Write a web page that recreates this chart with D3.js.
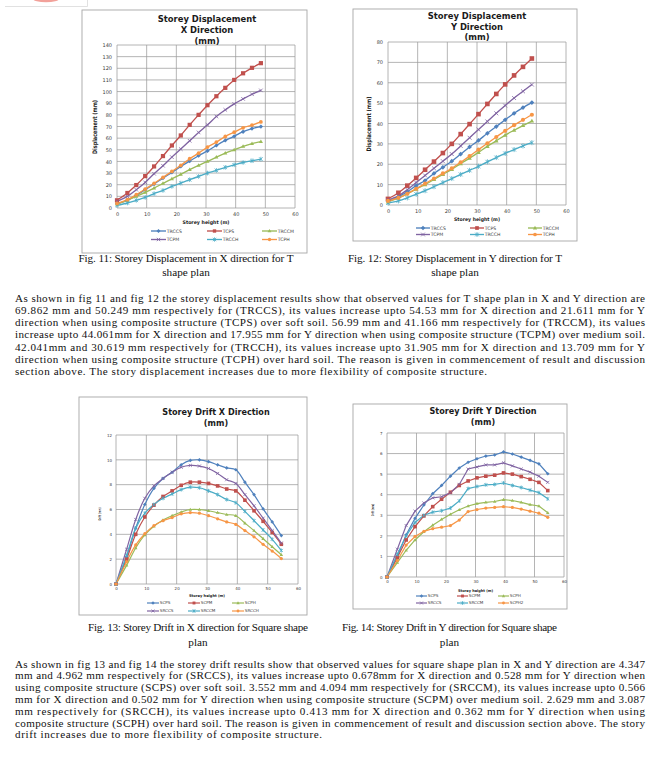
<!DOCTYPE html>
<html><head><meta charset="utf-8">
<script src="https://cdn.jsdelivr.net/npm/d3@7"></script>
<style>html,body{margin:0;padding:0;background:#fff;} svg{display:block;}</style>
</head><body>
<svg id="page" width="660" height="780"></svg>
<script>
// ---------- DATA ----------
const dispHeights = [0,3.5,6.5,9.5,12.5,15.5,18.5,21.5,24.5,27.5,30.5,33.5,36.5,39.5,42.5,45.5,48.5];
const driftHeights = [0,3.5,6.5,9.5,12.5,15.5,18.5,21.5,24.5,27.5,30.5,33.5,36.5,39.5,42.5,45.5,48.5,51.5,54.5];

// Fig 11 : storey displacement X (mm)
const dispX_TRCCS = [3.7,6.6,10.9,15.7,20.6,25.7,30.6,35.7,40.3,44.9,49.0,53.7,58.0,61.6,65.5,68.2,69.9];
const dispX_TCPS  = [6.6,12.9,19.7,27.4,35.7,44.6,53.7,62.3,71.4,80.0,88.3,96.0,103.2,110.0,115.7,120.4,124.4];
const dispX_TRCCM = [3.4,6.6,10.0,13.4,17.1,21.1,25.1,28.9,32.9,36.6,40.0,43.7,47.1,50.0,52.9,55.3,57.0];
const dispX_TCPM  = [5.7,10.0,15.7,22.0,29.4,36.3,43.7,50.6,57.7,64.9,71.4,78.6,84.3,89.4,93.7,97.7,101.0];
const dispX_TRCCH = [2.3,4.3,6.6,9.1,12.3,15.1,18.6,21.4,24.3,27.1,30.0,32.3,34.9,37.1,39.1,40.6,42.0];
const dispX_TCPH  = [3.9,7.1,11.4,16.3,21.1,26.3,31.4,36.6,42.3,47.1,52.3,56.6,61.4,65.1,68.9,71.2,73.9];

// Fig 12 : storey displacement Y (mm)
const dispY_TRCCS = [2.0,4.0,6.5,9.5,12.0,15.5,18.5,21.5,25.0,28.5,31.7,35.2,38.5,41.8,45.0,47.8,50.25];
const dispY_TCPS  = [3.0,6.0,9.5,13.3,17.3,21.3,25.5,30.0,34.8,39.7,44.6,49.6,54.5,59.2,63.6,67.8,71.9];
const dispY_TRCCM = [1.5,3.5,5.5,7.8,10.0,12.5,15.0,17.5,20.3,23.0,25.8,28.8,31.5,34.3,36.7,39.0,41.2];
const dispY_TCPM  = [2.5,4.5,7.5,11.0,14.5,18.0,21.5,25.0,29.0,33.0,37.0,41.0,45.0,48.8,52.5,55.8,59.1];
const dispY_TRCCH = [1.0,2.0,3.5,5.3,7.0,9.0,11.0,13.0,15.0,17.0,19.0,21.2,23.3,25.3,27.2,29.0,30.6];
const dispY_TCPH  = [2.0,3.5,5.5,8.0,10.5,13.0,15.5,18.0,21.0,24.0,27.2,30.3,33.4,36.4,39.2,41.8,44.3];

// Fig 13 : storey drift X (mm)
const driftX_SCPS  = [0,2.2,4.5,6.4,7.7,8.5,9.0,9.6,9.95,10.0,9.85,9.6,9.35,9.2,8.2,7.2,6.05,5.0,3.9];
const driftX_SCPM  = [0,2.0,4.0,5.4,6.35,7.05,7.5,7.95,8.2,8.2,8.1,7.9,7.65,7.5,6.75,5.9,5.05,4.15,3.2];
const driftX_SCPH  = [0,1.5,2.9,3.95,4.65,5.15,5.5,5.8,6.0,6.0,5.9,5.75,5.6,5.5,4.9,4.3,3.65,3.0,2.35];
const driftX_SRCCS = [0,2.8,5.2,6.9,7.9,8.5,9.0,9.4,9.55,9.5,9.3,8.9,8.4,8.1,7.2,6.3,5.3,4.3,3.3];
const driftX_SRCCM = [0,2.3,4.5,5.7,6.4,6.9,7.25,7.6,7.8,7.75,7.5,7.2,6.8,6.55,5.85,5.1,4.35,3.6,2.7];
const driftX_SRCCH = [0,1.8,3.15,4.05,4.7,5.1,5.35,5.65,5.75,5.7,5.5,5.25,5.0,4.8,4.3,3.8,3.2,2.65,2.05];

// Fig 14 : storey drift Y (mm)
const driftY_SCPS  = [0,1.0,2.05,2.85,3.5,4.05,4.45,4.9,5.3,5.58,5.75,5.88,5.93,6.08,5.98,5.83,5.67,5.5,5.02];
const driftY_SCPM  = [0,0.95,1.8,2.45,2.97,3.42,3.78,4.12,4.45,4.67,4.82,4.9,4.95,5.06,5.0,4.88,4.75,4.6,4.2];
const driftY_SCPH  = [0,0.7,1.3,1.8,2.2,2.52,2.8,3.05,3.27,3.45,3.57,3.63,3.67,3.76,3.72,3.63,3.52,3.45,3.12];
const driftY_SRCCS = [0,1.35,2.5,3.2,3.6,3.85,3.9,4.1,4.5,5.25,5.35,5.45,5.45,5.55,5.4,5.25,5.1,4.9,4.6];
const driftY_SRCCM = [0,1.1,2.0,2.65,3.0,3.15,3.22,3.35,3.7,4.3,4.4,4.48,4.5,4.57,4.45,4.35,4.22,4.1,3.8];
const driftY_SCPH2 = [0,0.8,1.55,1.97,2.22,2.35,2.42,2.5,2.77,3.18,3.28,3.35,3.38,3.42,3.38,3.3,3.2,3.1,2.9];

const xTicks = [0,10,20,30,40,50,60];
const yTicksDispX = [0,10,20,30,40,50,60,70,80,90,100,110,120,130,140];
const yTicksDispY = [0,10,20,30,40,50,60,70,80];
const yTicksDriftX = [0,2,4,6,8,10,12];
const yTicksDriftY = [0,1,2,3,4,5,6,7];

const namesT = ["TRCCS","TCPS","TRCCM","TCPM","TRCCH","TCPH"];
const namesSX = ["SCPS","SCPM","SCPH","SRCCS","SRCCM","SRCCH"];
const namesSY = ["SCPS","SCPM","SCPH","SRCCS","SRCCM","SCPH2"];

const para1 = [
"As shown in fig 11 and fig 12 the storey displacement results show that observed values for T shape plan in X and Y direction are",
"69.862 mm and 50.249 mm respectively for (TRCCS), its values increase upto 54.53 mm for X direction and 21.611 mm for Y",
"direction when using composite structure (TCPS) over soft soil. 56.99 mm and 41.166 mm respectively for (TRCCM), its values",
"increase upto 44.061mm for X direction and 17.955 mm for Y direction when using composite structure (TCPM) over medium soil.",
"42.041mm and 30.619 mm respectively for (TRCCH), its values increase upto 31.905 mm for X direction and 13.709 mm for Y",
"direction when using composite structure (TCPH) over hard soil. The reason is given in commencement of result and discussion",
"section above. The story displacement increases due to more flexibility of composite structure."];
const para2 = [
"As shown in fig 13 and fig 14 the storey drift results show that observed values for square shape plan in X and Y direction are 4.347",
"mm and 4.962 mm respectively for (SRCCS), its values increase upto 0.678mm for X direction and 0.528 mm for Y direction when",
"using composite structure (SCPS) over soft soil. 3.552 mm and 4.094 mm respectively for (SRCCM), its values increase upto 0.566",
"mm for X direction and 0.502 mm for Y direction when using composite structure (SCPM) over medium soil. 2.629 mm and 3.087",
"mm respectively for (SRCCH), its values increase upto 0.413 mm for X direction and 0.362 mm for Y direction when using",
"composite structure (SCPH) over hard soil. The reason is given in commencement of result and discussion section above. The story",
"drift increases due to more flexibility of composite structure."];

// ---------- STYLE ----------
const colors = ["#4F81BD","#C0504D","#9BBB59","#8064A2","#4BACC6","#F79646"];
const markers = ["diamond","square","triangle","x","star","circle"];

const svg = d3.select("#page");

// top-left cropped logo remnant
svg.append("path").attr("d","M5,6.5H87.5V0").attr("fill","none").attr("stroke","#d9d9d9").attr("stroke-width",0.8);
svg.append("ellipse").attr("cx",46).attr("cy",-1).attr("rx",13).attr("ry",3.2).attr("fill","#f2a19a");

function marker(g, type, x, y, c, s){
  if(type==="square") g.append("rect").attr("x",x-s).attr("y",y-s).attr("width",2*s).attr("height",2*s).attr("fill",c);
  else if(type==="diamond") g.append("path").attr("d",`M${x},${y-s*1.2}L${x+s*1.2},${y}L${x},${y+s*1.2}L${x-s*1.2},${y}Z`).attr("fill",c);
  else if(type==="triangle") g.append("path").attr("d",`M${x},${y-s*1.2}L${x+s*1.15},${y+s*0.8}L${x-s*1.15},${y+s*0.8}Z`).attr("fill",c);
  else if(type==="circle") g.append("circle").attr("cx",x).attr("cy",y).attr("r",s).attr("fill",c);
  else if(type==="x") g.append("path").attr("d",`M${x-s},${y-s}L${x+s},${y+s}M${x-s},${y+s}L${x+s},${y-s}`).attr("stroke",c).attr("stroke-width",0.8).attr("fill","none");
  else if(type==="star") g.append("path").attr("d",`M${x-s},${y-s}L${x+s},${y+s}M${x-s},${y+s}L${x+s},${y-s}M${x},${y-s*1.3}L${x},${y+s*1.3}`).attr("stroke",c).attr("stroke-width",0.8).attr("fill","none");
}

function drawChart(cfg){
  const g = svg.append("g");
  const [fx,fy,fw,fh] = cfg.frame;
  g.append("rect").attr("x",fx).attr("y",fy).attr("width",fw).attr("height",fh)
    .attr("fill","#fff").attr("stroke","#a6a6a6").attr("stroke-width",0.9);
  const yMax = cfg.yTicks[cfg.yTicks.length-1];
  const x = d3.scaleLinear().domain([0,60]).range([cfg.plot[0],cfg.plot[1]]);
  const y = d3.scaleLinear().domain([0,yMax]).range([cfg.plot[3],cfg.plot[2]]);
  const grid = g.append("g").attr("stroke","#9c9c9c").attr("stroke-width",0.75);
  cfg.yTicks.forEach(t=>grid.append("line").attr("x1",x(0)).attr("x2",x(60)).attr("y1",y(t)).attr("y2",y(t)));
  xTicks.forEach(t=>grid.append("line").attr("x1",x(t)).attr("x2",x(t)).attr("y1",y(0)).attr("y2",y(yMax)));
  const fmt = d3.format("d");
  const yAxis = d3.axisLeft(y).tickValues(cfg.yTicks).tickFormat(fmt).tickSize(0).tickPadding(cfg.yPad);
  const xAxis = d3.axisBottom(x).tickValues(xTicks).tickFormat(fmt).tickSize(0).tickPadding(cfg.xPad);
  const ya = g.append("g").attr("transform",`translate(${x(0)},0)`).call(yAxis);
  const xa = g.append("g").attr("transform",`translate(0,${y(0)})`).call(xAxis);
  [ya,xa].forEach(a=>{a.select(".domain").remove();
    a.selectAll("text").attr("font-family","DejaVu Sans").attr("font-size",cfg.tickSize).attr("fill","#404040");});
  cfg.titles.forEach(t=>g.append("text").attr("x",cfg.titleX).attr("y",t[1]).attr("text-anchor","middle")
    .attr("font-family","DejaVu Sans").attr("font-weight","bold").attr("font-size",cfg.titleSize).attr("fill","#1a1a1a").text(t[0]));
  g.append("text").attr("transform",`translate(${cfg.yLab[0]},${cfg.yLab[1]}) rotate(-90)`).attr("text-anchor","middle")
    .attr("font-family","DejaVu Sans Condensed, DejaVu Sans").attr("font-weight","bold").attr("font-size",cfg.yLab[3])
    .attr("textLength",cfg.yLab[2]).attr("lengthAdjust","spacingAndGlyphs").attr("fill","#1a1a1a").text(cfg.yLabText);
  g.append("text").attr("x",(cfg.plot[0]+cfg.plot[1])/2).attr("y",cfg.xLab[0]).attr("text-anchor","middle")
    .attr("font-family","DejaVu Sans").attr("font-weight","bold").attr("font-size",cfg.xLab[2])
    .attr("textLength",cfg.xLab[1]).attr("lengthAdjust","spacingAndGlyphs").attr("fill","#1a1a1a").text("Storey height (m)");
  const line = d3.line().x((d,i)=>x(cfg.xs[i])).y(d=>y(d)).curve(cfg.curve);
  cfg.series.forEach((s,k)=>{
    g.append("path").attr("d",line(s)).attr("fill","none").attr("stroke",colors[k]).attr("stroke-width",cfg.lw);
  });
  cfg.series.forEach((s,k)=>{
    s.forEach((v,i)=>marker(g,markers[k],x(cfg.xs[i]),y(v),colors[k],cfg.ms*(markers[k]==="square"?1:markers[k]==="circle"?0.9:0.85)));
  });
  cfg.names.forEach((n,k)=>{
    const cx = cfg.legCols[k%3], cy = cfg.legRows[Math.floor(k/3)];
    g.append("line").attr("x1",cx).attr("x2",cx+cfg.legLen).attr("y1",cy).attr("y2",cy).attr("stroke",colors[k]).attr("stroke-width",cfg.lw);
    marker(g,markers[k],cx+cfg.legLen/2,cy,colors[k],cfg.ms*0.8);
    g.append("text").attr("x",cx+cfg.legLen+0.8).attr("y",cy+cfg.legSize*0.36).attr("font-family","DejaVu Sans")
      .attr("font-size",cfg.legSize).attr("fill","#404040").text(n);
  });
}

const smooth = d3.curveCatmullRom.alpha(0.5);

drawChart({frame:[82,10,225,243], plot:[117,295,45,208], yTicks:yTicksDispX, yPad:5, xPad:4, tickSize:5,
  titles:[["Storey Displacement",21.5],["X Direction",32.5],["(mm)",43.5]], titleX:207, titleSize:8.4,
  yLab:[97,127,54,6.2], yLabText:"Displacement (mm)", xLab:[224,47,4.9],
  xs:dispHeights, series:[dispX_TRCCS,dispX_TCPS,dispX_TRCCM,dispX_TCPM,dispX_TRCCH,dispX_TCPH], names:namesT,
  curve:smooth, lw:1.35, ms:2.1, legCols:[151,207,262], legRows:[231,239.5], legLen:15, legSize:4.6});

drawChart({frame:[353,9,224,232], plot:[388,566,42,205], yTicks:yTicksDispY, yPad:5, xPad:4, tickSize:5,
  titles:[["Storey Displacement",18.5],["Y Direction",29.5],["(mm)",39.5]], titleX:477, titleSize:8.4,
  yLab:[371,124,55,6.2], yLabText:"Displacement (mm)", xLab:[221,46,4.9],
  xs:dispHeights, series:[dispY_TRCCS,dispY_TCPS,dispY_TRCCM,dispY_TCPM,dispY_TRCCH,dispY_TCPH], names:namesT,
  curve:smooth, lw:1.35, ms:2.3, legCols:[416,470,528], legRows:[228,234.5], legLen:14, legSize:4.6});

drawChart({frame:[79,397,228,218], plot:[116,298,435,584], yTicks:yTicksDriftX, yPad:4, xPad:3.5, tickSize:4,
  titles:[["Storey Drift  X Direction",415],["(mm)",425.5]], titleX:216, titleSize:8.1,
  yLab:[101,514,13,3.6], yLabText:"Drift (mm)", xLab:[596.5,36,3.8],
  xs:driftHeights, series:[driftX_SCPS,driftX_SCPM,driftX_SCPH,driftX_SRCCS,driftX_SRCCM,driftX_SRCCH], names:namesSX,
  curve:smooth, lw:1.2, ms:1.8, legCols:[147,188,232], legRows:[603,611], legLen:12, legSize:4.1});

drawChart({frame:[353,404,214,205], plot:[387,564,433,577], yTicks:yTicksDriftY, yPad:4.5, xPad:3.5, tickSize:4,
  titles:[["Storey Drift  Y Direction",414],["(mm)",424.5]], titleX:483, titleSize:8.1,
  yLab:[374,510,12,3.6], yLabText:"Drift (mm)", xLab:[591.5,35,3.8],
  xs:driftHeights, series:[driftY_SCPS,driftY_SCPM,driftY_SCPH,driftY_SRCCS,driftY_SRCCM,driftY_SCPH2], names:namesSY,
  curve:d3.curveLinear, lw:1.2, ms:1.8, legCols:[416,457,498], legRows:[596,603], legLen:11, legSize:4.1});

// ---------- TEXT ----------
function caption(lines, cx, y0, dy, len){
  lines.forEach((l,i)=>{
    const t = svg.append("text").attr("x",cx).attr("y",y0+i*dy).attr("text-anchor","middle")
      .attr("font-family","Liberation Serif").attr("font-size",11.2).attr("fill","#111").text(l);
    if(i===0 && len) t.attr("textLength",len).attr("lengthAdjust","spacing");
  });
}
caption(["Fig. 11: Storey Displacement in X direction for T","shape plan"],186,262,13.5,215);
caption(["Fig. 12: Storey Displacement in Y direction for T","shape plan"],455,262,13.5,214);
caption(["Fig. 13: Storey Drift in X direction for Square shape","plan"],198,631,14.5,220);
caption(["Fig. 14: Storey Drift in Y direction for Square shape","plan"],449.5,631,14.5,215);

function para(lines, x0, widths, y0, dy){
  lines.forEach((l,i)=>{
    svg.append("text").attr("x",x0).attr("y",y0+i*dy).attr("font-family","Liberation Serif")
      .attr("font-size",11.1).attr("fill","#111").text(l)
      .attr("textLength",widths[i]).attr("lengthAdjust","spacing");
  });
}
para(para1,15,[630,630,630,630,630,630,472],302,12.15);
para(para2,15,[630,630,630,630,630,630,307],667.5,11.8);
</script></body></html>
